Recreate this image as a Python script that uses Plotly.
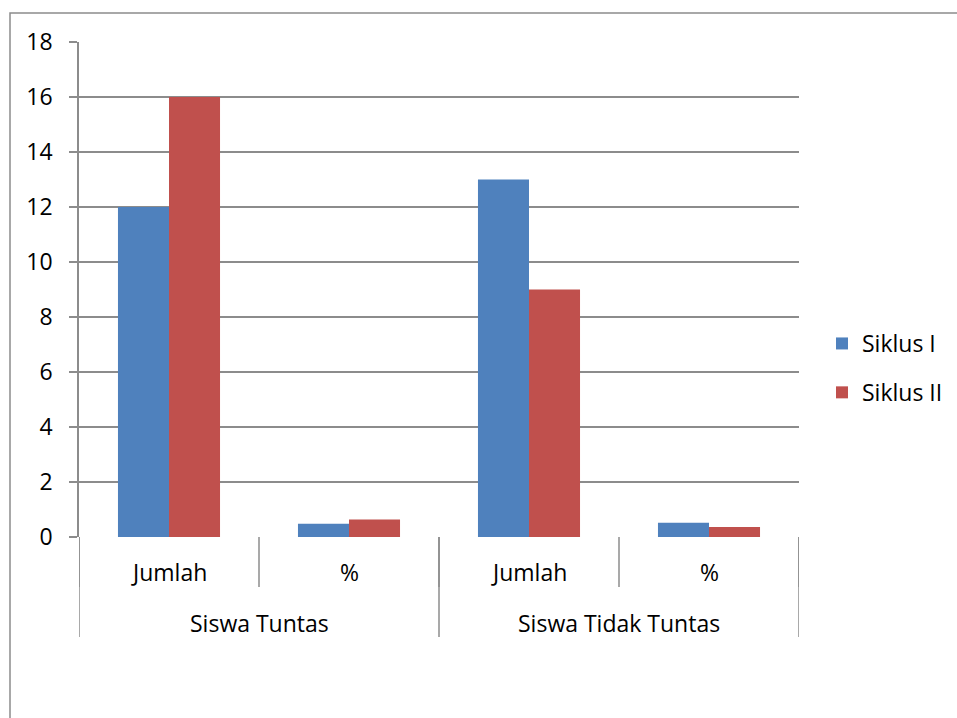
import plotly.graph_objects as go

outer_groups = ["Siswa Tuntas", "Siswa Tidak Tuntas"]
inner_labels = ["Jumlah", "%", "Jumlah", "%"]
category_keys = ["Tuntas|Jumlah", "Tuntas|%", "Tidak|Jumlah", "Tidak|%"]
siklus_1 = [12, 0.48, 13, 0.52]
siklus_2 = [16, 0.64, 9, 0.36]
y_ticks = [0, 2, 4, 6, 8, 10, 12, 14, 16, 18]

FONT = "Open Sans"
FS = 23
GRAY = "#8c8c8c"
BLUE = "#4F81BD"
RED = "#C0504D"

W, H = 957, 718
L, T, B = 79, 42, 181
PW = W - L          # paper width (right margin 0)
PH = H - T - B      # paper height
PLOT_W = 720        # plot area width

fig = go.Figure()
fig.add_trace(go.Bar(x=category_keys, y=siklus_1, name="Siklus I",
                     marker=dict(color=BLUE, line=dict(width=0)), legendgroup="a"))
fig.add_trace(go.Bar(x=category_keys, y=siklus_2, name="Siklus II",
                     marker=dict(color=RED, line=dict(width=0)), legendgroup="b"))

shapes = []
# chart border (extends beyond the page on right/bottom)
shapes.append(dict(type="rect", xref="paper", yref="paper",
                   x0=(10 - L) / PW, x1=1.05, y0=-0.40, y1=(537 - 13) / PH,
                   line=dict(color=GRAY, width=1.5), layer="below"))
# inner dividers
n = len(category_keys)
for i in range(n + 1):
    shapes.append(dict(type="line", xref="x", yref="paper",
                       x0=i - 0.5, x1=i - 0.5, y0=0, y1=-50 / PH,
                       line=dict(color=GRAY, width=1.5)))
# outer dividers
per_group = n // len(outer_groups)
for g in range(len(outer_groups) + 1):
    xb = g * per_group - 0.5
    shapes.append(dict(type="line", xref="x", yref="paper",
                       x0=xb, x1=xb, y0=0, y1=-100 / PH,
                       line=dict(color=GRAY, width=1.5)))

annotations = []
for i, lab in enumerate(inner_labels):
    annotations.append(dict(x=category_keys[i], y=-35 / PH, xref="x", yref="paper",
                            text=lab, showarrow=False, yanchor="middle",
                            font=dict(family=FONT, size=FS, color="#000")))
for g, lab in enumerate(outer_groups):
    xc = g * per_group + (per_group - 1) / 2
    annotations.append(dict(x=xc, y=-86 / PH, xref="x", yref="paper",
                            text=lab, showarrow=False, yanchor="middle",
                            font=dict(family=FONT, size=FS, color="#000")))

fig.update_layout(
    width=W, height=H,
    margin=dict(l=L, r=0, t=T, b=B),
    paper_bgcolor="white", plot_bgcolor="white",
    barmode="group", bargap=0.433, bargroupgap=0,
    font=dict(family=FONT, size=FS, color="#000"),
    showlegend=True,
    legend=dict(x=(822 - L) / PW, y=(537 - 368) / PH, xanchor="left", yanchor="middle",
                font=dict(family=FONT, size=FS, color="#000"), tracegroupgap=16,
                bgcolor="rgba(0,0,0,0)"),
    shapes=shapes, annotations=annotations,
    xaxis=dict(type="category", showticklabels=False, ticks="", showgrid=False,
               showline=False, zeroline=False, range=[-0.5, n - 0.5], fixedrange=True,
               domain=[0, PLOT_W / PW]),
    yaxis=dict(range=[0, 18], tickvals=y_ticks, showgrid=True, gridcolor=GRAY, gridwidth=1.5,
               showline=True, linecolor=GRAY, linewidth=1.5, ticks="outside",
               ticklen=8, tickwidth=1.5, tickcolor=GRAY, zeroline=False,
               ticklabelstandoff=12, tickfont=dict(family=FONT, size=FS, color="#000")),
)

fig.write_html("out.html")
